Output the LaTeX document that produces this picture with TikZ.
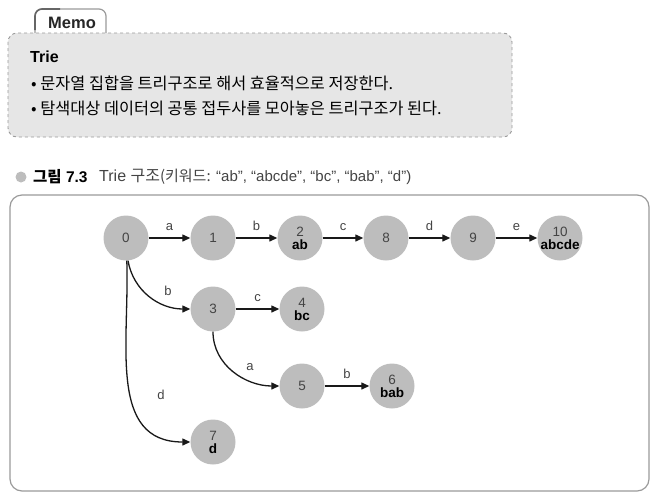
\documentclass[tikz,border=0pt]{standalone}
\usepackage{fontspec}
\setmainfont{Liberation Sans}
\newfontfamily\kr{Noto Sans CJK KR}
\usetikzlibrary{arrows.meta}
\definecolor{nodegray}{HTML}{BDBDBD}
\definecolor{memofill}{HTML}{E6E6E6}
\definecolor{boxline}{HTML}{9A9A9A}
\definecolor{txtgray}{HTML}{444444}
\tikzset{
  trienode/.style={circle, fill=nodegray, minimum size=45pt, inner sep=0pt, align=center, font=\fontsize{13.5}{13}\selectfont, text=txtgray},
  edge/.style={draw=black!90, line width=1.3pt, -{Triangle[length=8pt,width=7pt]}},
  lbl/.style={font=\fontsize{13}{13}\selectfont, text=txtgray, inner sep=1pt}
}
\newcommand{\kw}[1]{\\{\color{black}\bfseries #1}}
\begin{document}
\begin{tikzpicture}[x=1pt,y=-1pt]
\useasboundingbox (0,0) rectangle (660,501);
% Memo tab
\draw[boxline, line width=1.2pt, fill=white, rounded corners=7pt] (35,34) -- (35,9) -- (106,9) -- (106,34);
\draw[black!60, line width=1.6pt, rounded corners=7pt] (35,30) -- (35,9) -- (60,9);
\node[anchor=center, font=\fontsize{16.5}{16}\selectfont\bfseries, text=black!85] (memo) at (72,23) {Memo};
% Memo box
\draw[boxline, dashed, line width=0.9pt, fill=memofill, rounded corners=9pt] (8,33) rectangle (512,137);
\node[anchor=west, font=\fontsize{16}{16}\selectfont\bfseries, inner sep=0pt] (trie) at (30,57) {Trie};
\node[anchor=west, font=\fontsize{16.3}{16}\selectfont, inner sep=0pt] (l1) at (31,83) {\kr • 문자열 집합을 트리구조로 해서 효율적으로 저장한다.};
\node[anchor=west, font=\fontsize{16.3}{16}\selectfont, inner sep=0pt] (l2) at (31,108) {\kr • 탐색대상 데이터의 공통 접두사를 모아놓은 트리구조가 된다.};
% Caption
\fill[nodegray] (21,177) circle (5.5);
\node[anchor=west, font=\fontsize{15.5}{15}\selectfont\bfseries, inner sep=0pt] (cap1) at (33,177) {{\kr 그림} 7.3};
\node[anchor=west, font=\fontsize{16}{16}\selectfont, text=txtgray, inner sep=0pt] (cap2) at (99,177) {Trie {\kr 구조}{\fontsize{15}{15}\selectfont{\kr(키워드:} “ab”, “abcde”, “bc”, “bab”, “d”)}};
% Diagram box
\draw[boxline, line width=1.2pt, rounded corners=12pt] (10,195) rectangle (649,491);
% Nodes
\node[trienode] (n0) at (126,238) {0};
\node[trienode] (n1) at (213,238) {1};
\node[trienode] (n2) at (300,238) {2\kw{ab}};
\node[trienode] (n8) at (386,238) {8};
\node[trienode] (n9) at (473,238) {9};
\node[trienode] (n10) at (560,238) {10\kw{abcde}};
\node[trienode] (n3) at (213,309) {3};
\node[trienode] (n4) at (302,309) {4\kw{bc}};
\node[trienode] (n5) at (302,386) {5};
\node[trienode] (n6) at (392,386) {6\kw{bab}};
\node[trienode] (n7) at (213,442) {7\kw{d}};
% Edges
\draw[edge] (n0) -- node[lbl, above=6pt] {a} (n1);
\draw[edge] (n1) -- node[lbl, above=6pt] {b} (n2);
\draw[edge] (n2) -- node[lbl, above=6pt] {c} (n8);
\draw[edge] (n8) -- node[lbl, above=6pt] {d} (n9);
\draw[edge] (n9) -- node[lbl, above=6pt] {e} (n10);
\draw[edge] (n3) -- node[lbl, above=6pt] {c} (n4);
\draw[edge] (n5) -- node[lbl, above=6pt] {b} (n6);
\draw[edge] (n0.-85) to[out=-80, in=180] (n3.west);
\node[lbl] (lb03) at (168,291) {b};
\draw[edge] (n0.-88) to[out=-88, in=180, looseness=1.1] (n7.west);
\node[lbl] (lb07) at (161,395) {d};
\draw[edge] (n3.south) to[out=-90, in=180] (n5.west);
\node[lbl] (lb35) at (250,367) {a};
\end{tikzpicture}
\end{document}
